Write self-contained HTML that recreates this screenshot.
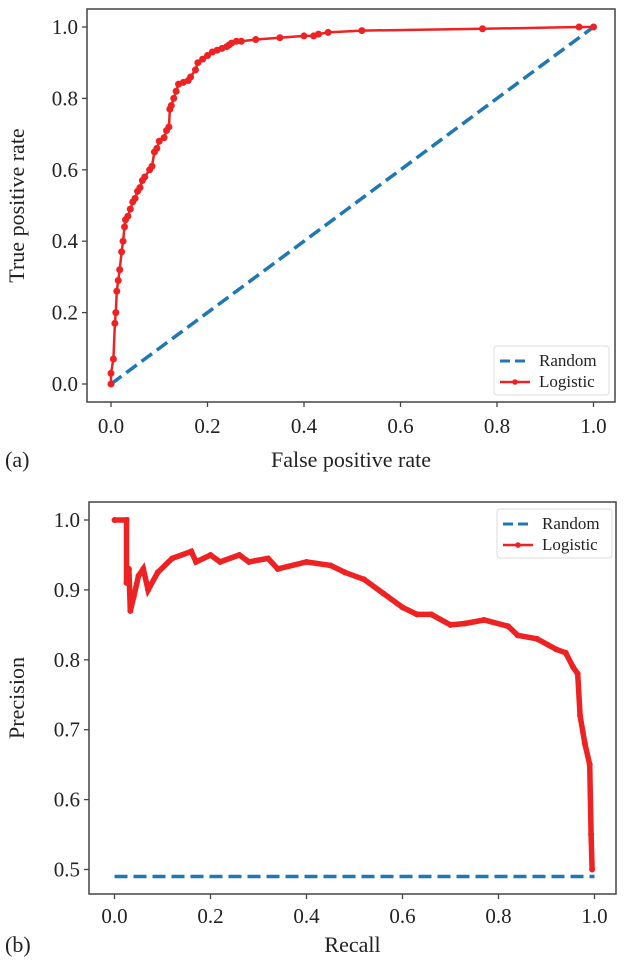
<!DOCTYPE html>
<html><head><meta charset="utf-8">
<style>
html,body{margin:0;padding:0;background:#fff;}
svg{display:block;font-family:"Liberation Serif","DejaVu Serif",serif;}
text{font-family:"Liberation Serif","DejaVu Serif",serif;}
</style></head>
<body>
<svg id="chart" width="624" height="969" viewBox="0 0 624 969"></svg>
<script>
// ---- Data: ROC (panel a)
const rocFpr = [0,0,0.005,0.008,0.01,0.012,0.015,0.018,0.022,0.025,0.028,0.03,0.035,0.04,0.045,0.05,0.055,0.06,0.065,0.07,0.08,0.085,0.09,0.095,0.1,0.11,0.115,0.12,0.122,0.125,0.13,0.135,0.14,0.15,0.16,0.165,0.175,0.18,0.19,0.2,0.21,0.22,0.23,0.24,0.245,0.25,0.26,0.27,0.3,0.35,0.4,0.42,0.43,0.45,0.52,0.77,0.97,1];
const rocTpr = [0,0.03,0.07,0.17,0.2,0.26,0.29,0.32,0.37,0.4,0.44,0.46,0.47,0.49,0.51,0.52,0.54,0.55,0.57,0.58,0.6,0.61,0.65,0.66,0.68,0.69,0.71,0.72,0.77,0.78,0.8,0.82,0.84,0.845,0.85,0.86,0.88,0.9,0.91,0.92,0.93,0.935,0.94,0.945,0.95,0.955,0.96,0.96,0.965,0.97,0.975,0.975,0.98,0.985,0.99,0.995,1,1];
const randomRoc = [0,1];
// ---- Data: PR (panel b)
const prRecall = [0,0.025,0.025,0.03,0.033,0.04,0.05,0.06,0.07,0.09,0.12,0.16,0.17,0.2,0.22,0.26,0.28,0.32,0.34,0.4,0.45,0.48,0.52,0.56,0.6,0.63,0.66,0.7,0.73,0.77,0.82,0.84,0.88,0.92,0.94,0.955,0.965,0.97,0.98,0.99,0.993,0.995];
const prPrecision = [1,1,0.91,0.93,0.87,0.89,0.92,0.93,0.9,0.925,0.945,0.955,0.94,0.95,0.94,0.95,0.94,0.945,0.93,0.94,0.935,0.925,0.915,0.895,0.875,0.865,0.865,0.85,0.852,0.857,0.848,0.835,0.83,0.815,0.81,0.79,0.78,0.72,0.68,0.65,0.55,0.5];
const randomPrecision = 0.49;
const xTicks = [0,0.2,0.4,0.6,0.8,1.0];
const rocYTicks = [0,0.2,0.4,0.6,0.8,1.0];
const prYTicks = [0.5,0.6,0.7,0.8,0.9,1.0];

const NS="http://www.w3.org/2000/svg";
const FONT='"Liberation Serif", "DejaVu Serif", serif';
const svg=document.getElementById('chart');
function mk(tag,attrs,parent){const e=document.createElementNS(NS,tag);for(const k in attrs)e.setAttribute(k,attrs[k]);if(tag==='text')e.setAttribute('font-family',FONT);(parent||svg).appendChild(e);return e;}

function panel(cfg){
  const g=mk('g',{});
  
  
  const sx=v=>cfg.x0+(v-0)*(cfg.x1-cfg.x0);
  const sy=v=>cfg.yA+(v-cfg.vA)*(cfg.yB-cfg.yA)/(cfg.vB-cfg.vA);
  xTicks.forEach(t=>{
    const x=sx(t);
    const l=mk('line',{x1:x,x2:x,y1:cfg.bottom,y2:cfg.bottom+5,stroke:'#444','stroke-width':1.3},g);
    
    
    const tx=mk('text',{x:x,y:cfg.xTickY,'text-anchor':'middle','font-size':21,fill:'#222'},g);
    tx.textContent=t.toFixed(1);
    
    
  });
  cfg.yTicks.forEach(t=>{
    const y=sy(t);
    const l=mk('line',{x1:cfg.left-5,x2:cfg.left,y1:y,y2:y,stroke:'#444','stroke-width':1.3},g);
    
    
    const tx=mk('text',{x:cfg.left-9,y:y+7,'text-anchor':'end','font-size':21,fill:'#222'},g);
    tx.textContent=t.toFixed(1);
    
    
  });
  let rp;
  if(cfg.type==='roc'){
    rp=mk('line',{x1:sx(randomRoc[0]),y1:sy(randomRoc[0]),x2:sx(randomRoc[1]),y2:sy(randomRoc[1]),stroke:'#1f77b4','stroke-width':3.5,'stroke-dasharray':'13,6'},g);
  } else {
    rp=mk('line',{x1:sx(0),y1:sy(randomPrecision),x2:sx(1),y2:sy(randomPrecision),stroke:'#1f77b4','stroke-width':3.5,'stroke-dasharray':'13,6'},g);
  }
  
  
  const pts=cfg.xs.map((v,i)=>sx(v).toFixed(1)+','+sy(cfg.ys[i]).toFixed(1)).join(' ');
  const pl=mk('polyline',{points:pts,fill:'none',stroke:'#ee2222','stroke-width':cfg.type==='roc'?2.5:5.5,'stroke-linejoin':'miter'},g);
  
  
  cfg.xs.forEach((v,i)=>{
    const c=mk('circle',{cx:sx(v),cy:sy(cfg.ys[i]),r:cfg.type==='roc'?3.5:3,fill:'#ee2222'},g);
    
    
  });
  const fr=mk('rect',{x:cfg.left,y:cfg.top,width:cfg.right-cfg.left,height:cfg.bottom-cfg.top,fill:'none',stroke:'#444','stroke-width':1.5},g);
  
  
  const lg=mk('g',{},g);
  
  
  const L=cfg.legend;
  mk('rect',{x:L.x,y:L.y,width:115,height:49,rx:3,fill:'#fff',stroke:'#ddd','stroke-width':1},lg);
  const e1=mk('g',{},lg);
  
  
  mk('line',{x1:L.x+6,x2:L.x+36,y1:L.y+15,y2:L.y+15,stroke:'#1f77b4','stroke-width':3,'stroke-dasharray':'10,5'},e1);
  const t1=mk('text',{x:L.x+45,y:L.y+20,'font-size':17,fill:'#222'},e1);t1.textContent='Random';
  const e2=mk('g',{},lg);
  
  
  mk('line',{x1:L.x+6,x2:L.x+36,y1:L.y+36,y2:L.y+36,stroke:'#ee2222','stroke-width':2.5},e2);
  mk('circle',{cx:L.x+21,cy:L.y+36,r:2.8,fill:'#ee2222'},e2);
  const t2=mk('text',{x:L.x+45,y:L.y+41,'font-size':17,fill:'#222'},e2);t2.textContent='Logistic';
  const xl=mk('text',{x:(cfg.left+cfg.right)/2,y:cfg.xLabelY,'text-anchor':'middle','font-size':22,fill:'#222'},g);
  xl.textContent=cfg.xLabel;
  
  
  const yc=(cfg.top+cfg.bottom)/2;
  const yl=mk('text',{x:0,y:0,'text-anchor':'middle','font-size':22,fill:'#222',transform:`translate(24,${yc}) rotate(-90)`},g);
  yl.textContent=cfg.yLabel;
  
  
  const pn=mk('text',{x:5,y:cfg.xLabelY,'font-size':22,fill:'#222'},g);
  pn.textContent=cfg.panelLabel;
  
  
}

panel({name:'roc-panel',type:'roc',left:87,right:615,top:9,bottom:402,x0:111,x1:593.5,
  vA:0,yA:384,vB:1,yB:27,yTicks:rocYTicks,xs:rocFpr,ys:rocTpr,xTickY:433,xLabelY:467,
  xLabel:'False positive rate',yLabel:'True positive rate',panelLabel:'(a)',legend:{x:494,y:346}});
panel({name:'pr-panel',type:'pr',left:89,right:616,top:502,bottom:894,x0:114.5,x1:594.5,
  vA:0.5,yA:869.5,vB:1,yB:520,yTicks:prYTicks,xs:prRecall,ys:prPrecision,xTickY:923,xLabelY:952,
  xLabel:'Recall',yLabel:'Precision',panelLabel:'(b)',legend:{x:497,y:509}});
</script>
</body></html>
